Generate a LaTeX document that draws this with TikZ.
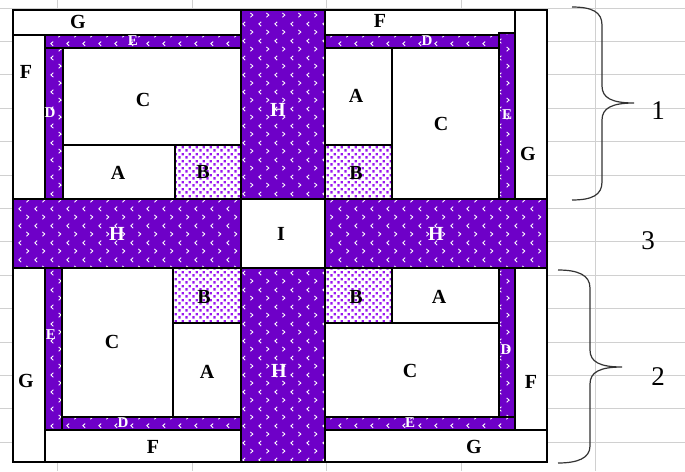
\documentclass[tikz,border=0pt]{standalone}
\usepackage{fontspec}
\setmainfont{Liberation Serif}
\usetikzlibrary{patterns}

\definecolor{quiltPurple}{HTML}{6E00C8}
\definecolor{dotPurple}{HTML}{9A18F0}
\definecolor{gridGray}{HTML}{D0D0D0}

\pgfdeclarepatternformonly{chevrons}{\pgfqpoint{0pt}{0pt}}{\pgfqpoint{16pt}{16.6pt}}{\pgfqpoint{16pt}{16.6pt}}{%
  \pgfsetlinewidth{0.9pt}%
  \pgfpathmoveto{\pgfqpoint{5.5pt}{14.5pt}}\pgfpathlineto{\pgfqpoint{3pt}{12.3pt}}\pgfpathlineto{\pgfqpoint{5.5pt}{10pt}}%
  \pgfpathmoveto{\pgfqpoint{11pt}{6.2pt}}\pgfpathlineto{\pgfqpoint{13.5pt}{4pt}}\pgfpathlineto{\pgfqpoint{11pt}{1.8pt}}%
  \pgfusepath{stroke}}

\pgfdeclarepatternformonly{purpledots}{\pgfqpoint{0pt}{0pt}}{\pgfqpoint{6.6pt}{6.6pt}}{\pgfqpoint{6.6pt}{6.6pt}}{%
  \pgfpathrectangle{\pgfqpoint{0.5pt}{0.5pt}}{\pgfqpoint{2.4pt}{2.4pt}}%
  \pgfpathrectangle{\pgfqpoint{3.8pt}{3.8pt}}{\pgfqpoint{2.4pt}{2.4pt}}%
  \pgfusepath{fill}}

\begin{document}
\begin{tikzpicture}[
    x=1pt, y=-1pt,
    piece/.style={draw=black, line width=1.1pt, fill=white},
    strip/.style={draw=black, line width=1.1pt, preaction={fill=quiltPurple}, pattern=chevrons, pattern color=white},
    dots/.style={draw=black, line width=1.1pt, preaction={fill=white}, pattern=purpledots, pattern color=dotPurple},
    lbl/.style={font=\bfseries\fontsize{20}{20}\selectfont, inner sep=0pt},
    wlbl/.style={lbl, text=white},
    slbl/.style={font=\bfseries\fontsize{15}{15}\selectfont, text=white, inner sep=0pt},
    num/.style={font=\fontsize{27}{27}\selectfont, inner sep=0pt},
    gridline/.style={draw=gridGray, line width=1pt},
    bracket/.style={draw=black!80, line width=1.2pt},
]
\useasboundingbox (0, 0) rectangle (685, 471);
\fill[white] (0, 0) rectangle (685, 471);
% sheet grid
\foreach \y in {0,...,13}
  \draw[gridline] (0, 8+33.4*\y) -- (685, 8+33.4*\y);
\foreach \x in {0,...,4}
  \draw[gridline] (57.5+134.5*\x, 0) -- (57.5+134.5*\x, 471);

% top left
\draw[piece] (13, 10) rectangle (241, 35);
\draw[piece] (13, 35) rectangle (45, 199);
\draw[strip] (45, 35) rectangle (241, 48);
\draw[strip] (45, 48) rectangle (63, 199);
\draw[piece] (63, 48) rectangle (241, 145);
\draw[piece] (63, 145) rectangle (175, 199);
\draw[dots] (175, 145) rectangle (241, 199);
\node[lbl] (gTL) at (78, 22) {G};
\node[lbl] (fTL) at (26, 72) {F};
\node[slbl] (eTL) at (133, 41) {E};
\node[slbl] (dTL) at (50, 113) {D};
\node[lbl] (cTL) at (143, 100) {C};
\node[lbl] (aTL) at (118, 173) {A};
\node[lbl] (bTL) at (203, 172) {B};

% top sashing
\draw[strip] (241, 10) rectangle (325, 199);
\node[wlbl] (hT) at (278, 110) {H};

% top right
\draw[piece] (325, 10) rectangle (515, 35);
\draw[piece] (515, 10) rectangle (547, 199);
\draw[strip] (325, 35) rectangle (499, 48);
\draw[strip] (499, 33) rectangle (515, 199);
\draw[piece] (325, 48) rectangle (392, 145);
\draw[dots] (325, 145) rectangle (392, 199);
\draw[piece] (392, 48) rectangle (499, 199);
\node[lbl] (fTR) at (380, 21) {F};
\node[lbl] (gTR) at (528, 154) {G};
\node[slbl] (dTR) at (427, 41) {D};
\node[slbl] (eTR) at (507, 115) {E};
\node[lbl] (aTR) at (356, 96) {A};
\node[lbl] (bTR) at (356, 173) {B};
\node[lbl] (cTR) at (441, 124) {C};

% middle row
\draw[strip] (13, 199) rectangle (241, 268);
\draw[piece] (241, 199) rectangle (325, 268);
\draw[strip] (325, 199) rectangle (547, 268);
\node[wlbl] (hL) at (117, 234) {H};
\node[lbl] (iM) at (281, 234) {I};
\node[wlbl] (hR) at (436, 234) {H};

% bottom left
\draw[piece] (13, 268) rectangle (45, 462);
\draw[strip] (45, 268) rectangle (62, 430);
\draw[strip] (62, 417) rectangle (241, 430);
\draw[piece] (45, 430) rectangle (241, 462);
\draw[piece] (62, 268) rectangle (173, 417);
\draw[dots] (173, 268) rectangle (241, 323);
\draw[piece] (173, 323) rectangle (241, 417);
\node[lbl] (gBL) at (26, 381) {G};
\node[slbl] (eBL) at (51, 335) {E};
\node[slbl] (dBL) at (123, 423) {D};
\node[lbl] (fBL) at (153, 447) {F};
\node[lbl] (cBL) at (112, 342) {C};
\node[lbl] (bBL) at (204, 297) {B};
\node[lbl] (aBL) at (207, 372) {A};

% bottom sashing
\draw[strip] (241, 268) rectangle (325, 462);
\node[wlbl] (hB) at (279, 371) {H};

% bottom right
\draw[dots] (325, 268) rectangle (392, 323);
\draw[piece] (392, 268) rectangle (499, 323);
\draw[piece] (325, 323) rectangle (499, 417);
\draw[strip] (499, 268) rectangle (515, 430);
\draw[strip] (325, 417) rectangle (515, 430);
\draw[piece] (515, 268) rectangle (547, 430);
\draw[piece] (325, 430) rectangle (547, 462);
\node[lbl] (bBR) at (356, 297) {B};
\node[lbl] (aBR) at (439, 297) {A};
\node[lbl] (cBR) at (410, 371) {C};
\node[slbl] (dBR) at (506, 350) {D};
\node[slbl] (eBR) at (410, 423) {E};
\node[lbl] (fBR) at (531, 382) {F};
\node[lbl] (gBR) at (474, 447) {G};

% outer frame
\draw[line width=1.4pt] (13, 10) rectangle (547, 462);

% braces and row numbers
\draw[bracket] (572, 7) .. controls (592, 7) and (602, 12) .. (602, 25)
  -- (602, 86) .. controls (602, 98) and (612, 103) .. (634, 103)
  .. controls (612, 103) and (602, 108) .. (602, 120)
  -- (602, 182) .. controls (602, 195) and (592, 200) .. (572, 200);
\draw[bracket] (558, 270) .. controls (578, 270) and (590, 275) .. (590, 288)
  -- (590, 350) .. controls (590, 362) and (600, 367) .. (622, 367)
  .. controls (600, 367) and (590, 372) .. (590, 384)
  -- (590, 446) .. controls (590, 458) and (578, 463) .. (558, 463);
\node[num] (n1) at (658, 111) {1};
\node[num] (n3) at (648, 241) {3};
\node[num] (n2) at (658, 377) {2};
\end{tikzpicture}
\end{document}
